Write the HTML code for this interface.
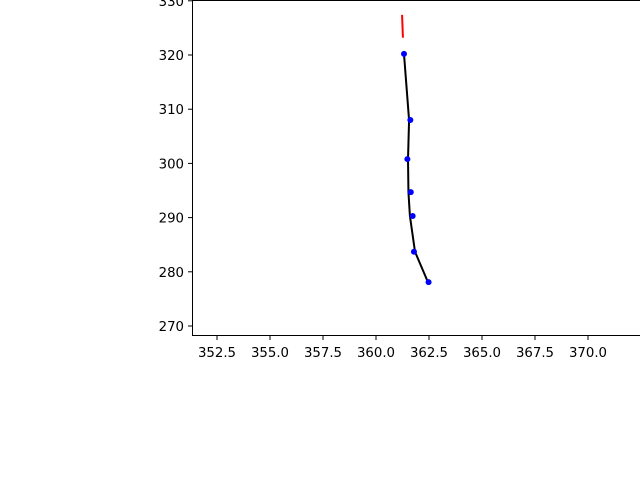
<!DOCTYPE html>
<html><head><meta charset="utf-8"><style>
body{margin:0;background:#fff;}
svg{display:block;font-family:"DejaVu Sans","Liberation Sans",sans-serif;}
</style></head><body>
<svg id="chart" width="640" height="480">
<rect x="0" y="0" width="640" height="480" fill="#fff"/>
<g id="plot"></g>
<g id="axes"></g>
</svg>
<script>
const xTicks=[352.5,355.0,357.5,360.0,362.5,365.0,367.5,370.0];
const yTicks=[270,280,290,300,310,320,330];
const pointX=[361.32,361.62,361.48,361.64,361.73,361.79,362.48];
const pointY=[320.2,308.0,300.8,294.7,290.3,283.7,278.1];
const fitX=[361.32,361.56,361.51,361.53,361.60,361.84,362.45];
const fitY=[320.2,308.0,300.8,294.7,290.3,283.7,278.1];
const redX=[361.23,361.27];
const redY=[327.4,323.2];

const X=v=>376+(v-360)*21.2;
const Y=v=>55-(v-320)*5.42;
const NS='http://www.w3.org/2000/svg';
const plot=document.getElementById('plot'), axes=document.getElementById('axes');
function mk(tag,attrs,parent){const e=document.createElementNS(NS,tag);for(const k in attrs)e.setAttribute(k,attrs[k]);parent.appendChild(e);return e;}

let d=fitX.map((v,i)=>(i?'L':'M')+X(v)+' '+Y(fitY[i])).join(' ');
const fit=mk('path',{d:d,fill:'none',stroke:'#000','stroke-width':2},plot);


const red=mk('path',{d:'M'+X(redX[0])+' '+Y(redY[0])+' L'+X(redX[1])+' '+Y(redY[1]),stroke:'red','stroke-width':2,fill:'none'},plot);


pointX.forEach((v,i)=>{
  const c=mk('circle',{cx:X(v),cy:Y(pointY[i]),r:3,fill:'blue'},plot);
  
  
});

const frame=mk('path',{d:'M192.5 0 L192.5 336 M192 335.5 L640 335.5 M192 0.5 L640 0.5',stroke:'#000','stroke-width':1,fill:'none'},axes);


xTicks.forEach(v=>{
  const x=X(v);
  mk('line',{x1:x,y1:336,x2:x,y2:340,stroke:'#000'},axes);
  const t=mk('text',{x:x,y:357,'font-size':13.3,'text-anchor':'middle',fill:'#000'},axes);
  t.textContent=v.toFixed(1);
  
  
});
yTicks.forEach(v=>{
  const y=Y(v);
  mk('line',{x1:188,y1:y,x2:192,y2:y,stroke:'#000'},axes);
  const t=mk('text',{x:184,y:y+5,'font-size':13.3,'text-anchor':'end',fill:'#000'},axes);
  t.textContent=v;
  
  
});
</script>
</body></html>
